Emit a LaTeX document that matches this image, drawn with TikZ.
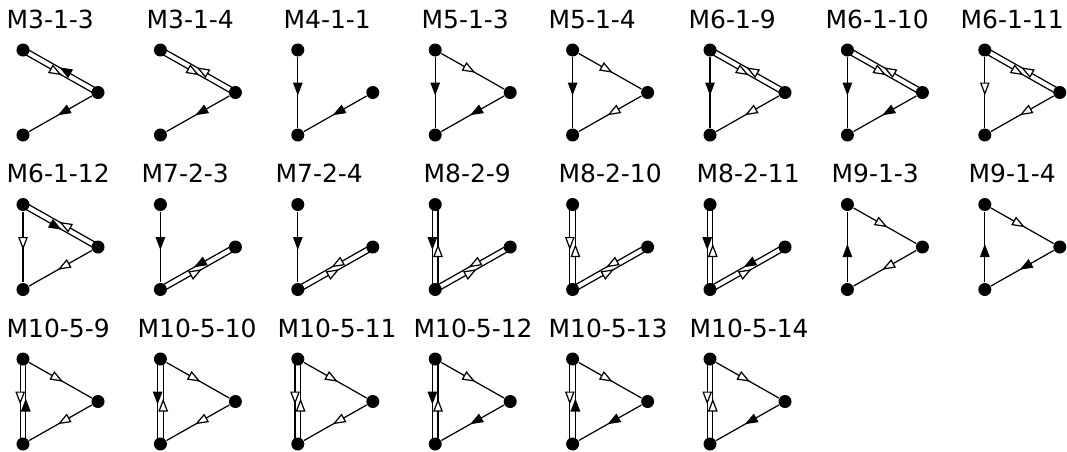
\documentclass[tikz,border=0pt]{standalone}
\usepackage{fontspec}
\setmainfont{DejaVu Sans}
\usepackage{tikz}
\usetikzlibrary{calc, arrows.meta, decorations.markings}

\begin{document}
\begin{tikzpicture}[x=0.01cm, y=-0.01cm,
    dot/.style={circle, fill=black, inner sep=0pt, minimum size=1.3mm},
    lab/.style={anchor=base west, inner sep=0pt, font=\fontsize{7.1}{8}\selectfont},
    every path/.style={line width=0.35pt},
    twin/.style={to path={($(\tikztostart)!0.28mm!-90:(\tikztotarget)$) -- ($(\tikztotarget)!0.28mm!90:(\tikztostart)$)}},
    solidtip/.style={postaction={decorate, decoration={markings,
        mark=at position 0.5 with {\arrow[xshift=0.3mm]{Triangle[length=1.3mm, width=0.95mm]}}}}},
    opentip/.style={postaction={decorate, decoration={markings,
        mark=at position 0.5 with {\arrow[xshift=0.3mm]{Triangle[open, fill=white, length=1.3mm, width=0.95mm]}}}}}]

    % Khung hình
    \useasboundingbox (0,0) rectangle (1067,451);

    % 1. Ba đỉnh và tên của mỗi motif (8 cột, 3 hàng)
    \foreach \lab/\lx [count=\i from 0] in {M3-1-3/6, M3-1-4/146, M4-1-1/283, M5-1-3/421,
        M5-1-4/548, M6-1-9/688, M6-1-10/825, M6-1-11/960,
        M6-1-12/6, M7-2-3/141, M7-2-4/275, M8-2-9/423,
        M8-2-10/558, M8-2-11/696, M9-1-3/831, M9-1-4/968,
        M10-5-9/6, M10-5-10/137, M10-5-11/277, M10-5-12/413,
        M10-5-13/548, M10-5-14/689} {
        \pgfmathsetmacro\cx{23+137.4*mod(\i,8)}
        \pgfmathsetmacro\cy{50+154.5*floor(\i/8)}
        \node[dot] (a\i) at (\cx,\cy) {};
        \node[dot] (b\i) at (\cx+75,\cy+42.5) {};
        \node[dot] (c\i) at (\cx,\cy+85) {};
        \node[lab] (t\i) at (\lx,\cy-22) {\lab};
    }

    % 2. Hàng 1
    \draw[twin, opentip] (a0) to (b0);
    \draw[twin, solidtip] (b0) to (a0);
    \draw[solidtip] (b0) to (c0);

    \draw[twin, opentip] (a1) to (b1);
    \draw[twin, opentip] (b1) to (a1);
    \draw[solidtip] (b1) to (c1);

    \draw[solidtip] (a2) to (c2);
    \draw[solidtip] (b2) to (c2);

    \draw[opentip] (a3) to (b3);
    \draw[solidtip] (a3) to (c3);
    \draw[solidtip] (b3) to (c3);

    \draw[opentip] (a4) to (b4);
    \draw[solidtip] (a4) to (c4);
    \draw[opentip] (b4) to (c4);

    \draw[twin, opentip] (a5) to (b5);
    \draw[twin, opentip] (b5) to (a5);
    \draw[solidtip] (a5) to (c5);
    \draw[opentip] (b5) to (c5);

    \draw[twin, opentip] (a6) to (b6);
    \draw[twin, opentip] (b6) to (a6);
    \draw[solidtip] (a6) to (c6);
    \draw[solidtip] (b6) to (c6);

    \draw[twin, opentip] (a7) to (b7);
    \draw[twin, opentip] (b7) to (a7);
    \draw[opentip] (a7) to (c7);
    \draw[opentip] (b7) to (c7);

    % 3. Hàng 2
    \draw[twin, solidtip] (a8) to (b8);
    \draw[twin, opentip] (b8) to (a8);
    \draw[opentip] (a8) to (c8);
    \draw[opentip] (b8) to (c8);

    \draw[solidtip] (a9) to (c9);
    \draw[twin, solidtip] (b9) to (c9);
    \draw[twin, opentip] (c9) to (b9);

    \draw[solidtip] (a10) to (c10);
    \draw[twin, opentip] (b10) to (c10);
    \draw[twin, opentip] (c10) to (b10);

    \draw[twin, solidtip] (a11) to (c11);
    \draw[twin, opentip] (c11) to (a11);
    \draw[twin, opentip] (b11) to (c11);
    \draw[twin, opentip] (c11) to (b11);

    \draw[twin, opentip] (a12) to (c12);
    \draw[twin, opentip] (c12) to (a12);
    \draw[twin, opentip] (b12) to (c12);
    \draw[twin, opentip] (c12) to (b12);

    \draw[twin, solidtip] (a13) to (c13);
    \draw[twin, opentip] (c13) to (a13);
    \draw[twin, solidtip] (b13) to (c13);
    \draw[twin, opentip] (c13) to (b13);

    \draw[opentip] (a14) to (b14);
    \draw[opentip] (b14) to (c14);
    \draw[solidtip] (c14) to (a14);

    \draw[opentip] (a15) to (b15);
    \draw[solidtip] (b15) to (c15);
    \draw[solidtip] (c15) to (a15);

    % 4. Hàng 3
    \draw[opentip] (a16) to (b16);
    \draw[opentip] (b16) to (c16);
    \draw[twin, opentip] (a16) to (c16);
    \draw[twin, solidtip] (c16) to (a16);

    \draw[opentip] (a17) to (b17);
    \draw[opentip] (b17) to (c17);
    \draw[twin, solidtip] (a17) to (c17);
    \draw[twin, opentip] (c17) to (a17);

    \draw[opentip] (a18) to (b18);
    \draw[opentip] (b18) to (c18);
    \draw[twin, opentip] (a18) to (c18);
    \draw[twin, opentip] (c18) to (a18);

    \draw[opentip] (a19) to (b19);
    \draw[solidtip] (b19) to (c19);
    \draw[twin, solidtip] (a19) to (c19);
    \draw[twin, opentip] (c19) to (a19);

    \draw[opentip] (a20) to (b20);
    \draw[solidtip] (b20) to (c20);
    \draw[twin, opentip] (a20) to (c20);
    \draw[twin, solidtip] (c20) to (a20);

    \draw[opentip] (a21) to (b21);
    \draw[solidtip] (b21) to (c21);
    \draw[twin, opentip] (a21) to (c21);
    \draw[twin, opentip] (c21) to (a21);
\end{tikzpicture}
\end{document}
